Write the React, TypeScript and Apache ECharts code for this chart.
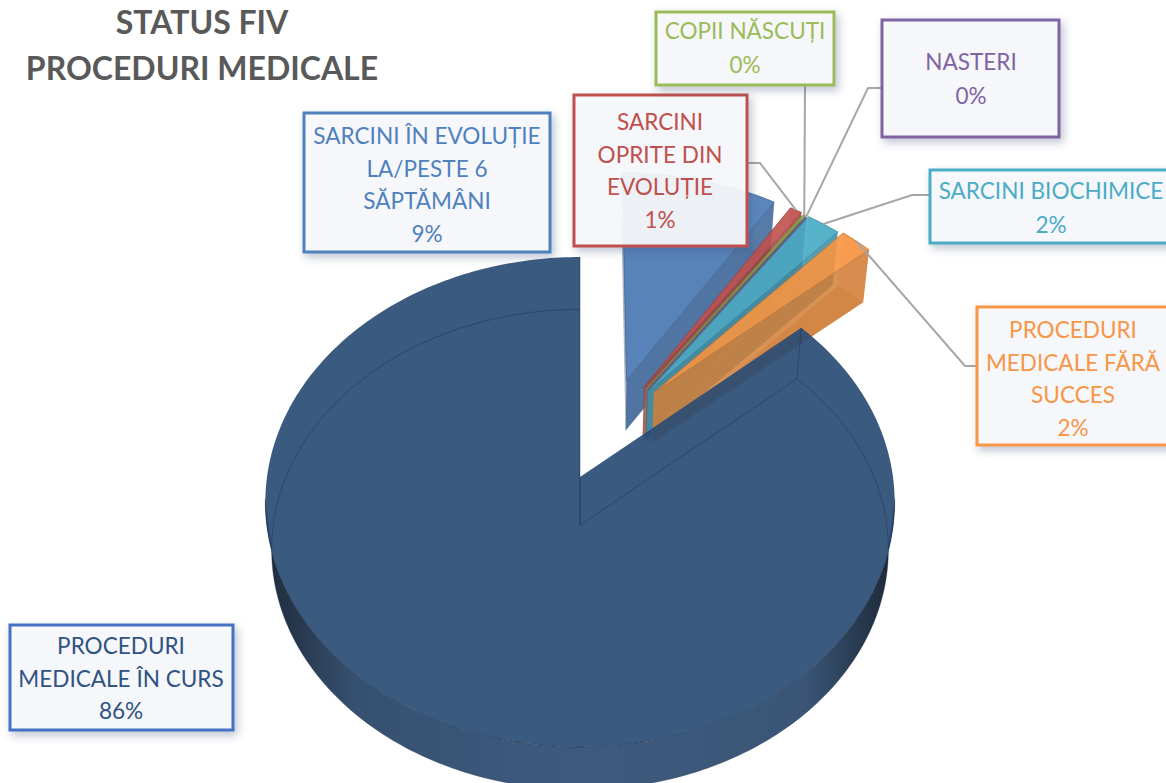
import React, { useEffect, useRef } from "react";
import * as echarts from "echarts";

// ---------- data ----------
const titleLines = ["STATUS FIV", "PROCEDURI MEDICALE"];
const categories = [
  "SARCINI ÎN EVOLUȚIE\nLA/PESTE 6\nSĂPTĂMÂNI",
  "SARCINI\nOPRITE DIN\nEVOLUȚIE",
  "COPII NĂSCUȚI",
  "NASTERI",
  "SARCINI BIOCHIMICE",
  "PROCEDURI\nMEDICALE FĂRĂ\nSUCCES",
  "PROCEDURI\nMEDICALE ÎN CURS",
];
const shares = [8.95, 0.7, 0.12, 0.03, 1.95, 1.85, 86.4];

// ---------- style ----------
const sliceRGB = [
  [78, 125, 184],
  [192, 80, 77],
  [140, 175, 80],
  [128, 100, 162],
  [72, 172, 197],
  [247, 148, 64],
  [42, 76, 116],
];
const boxColors = ["#4f81bd", "#c0504d", "#9bbb59", "#8064a2", "#4bacc6", "#f79646", "#4472c4"];
const textColors = ["#4f81bd", "#c0504d", "#9bbb59", "#8064a2", "#4bacc6", "#f79646", "#2f5382"];
// exploded offset and rim radius of each slice, in units of the pie's radius
const offsetU = [0.155, 0.212, 0.218, 0.221, 0.225, 0.244, 0];
const offsetV = [-0.415, -0.385, -0.375, -0.37, -0.365, -0.36, 0];
const rimRadius = [1.025, 1.025, 1.025, 1.025, 1.03, 1.03, 1];
// label boxes: left, top, right, bottom
const boxes = [
  [304, 113, 550, 252],
  [574, 95, 747, 246],
  [656, 12, 834, 85],
  [882, 20, 1059, 137],
  [930, 170, 1180, 243],
  [977, 307, 1180, 445],
  [10, 625, 233, 730],
];
const labelX = [427, 660, 745, 971, 1051, 1073, 121];
const labelTop = [135, 121, 30, 61, 190, 329, 645];
const leaderElbows: (number[][] | null)[] = [
  null,
  [[747, 163], [760, 163]],
  [[805, 85]],
  [[882, 88], [868, 88]],
  [[930, 195], [912, 195]],
  [[977, 366], [965, 366]],
  null,
];

// ---------- projection ----------
const cx = 580, cy = 477, B = 313, A = 242.4, persp = 0.102, depth = 48, lowScale = 0.98;
const total = shares.reduce((a, b) => a + b, 0);
const rad = (d: number) => (d * Math.PI) / 180;

function project(u: number, v: number, low: boolean) {
  const w = 1 - persp * v;
  const s = low ? lowScale : 1;
  return [cx + (B * s * u) / w, cy + (low ? depth : 0) + (A * s * v) / w];
}
function rim(i: number, deg: number, low: boolean) {
  const r = rimRadius[i];
  return project(offsetU[i] + r * Math.sin(rad(deg)), offsetV[i] - r * Math.cos(rad(deg)), low);
}
function arc(i: number, t0: number, t1: number, low: boolean) {
  const n = Math.max(2, Math.ceil(Math.abs(t1 - t0)));
  const pts: number[][] = [];
  for (let k = 0; k <= n; k++) pts.push(rim(i, t0 + ((t1 - t0) * k) / n, low));
  return pts;
}
function sliceRange(i: number) {
  let start = 0;
  for (let k = 0; k < i; k++) start += shares[k];
  return [(start / total) * 360, ((start + shares[i]) / total) * 360];
}
const rgba = (c: number[], a: number) => `rgba(${c[0]},${c[1]},${c[2]},${a})`;
const darker = (c: number[], f: number) => c.map((x) => Math.round(x * f));

function poly(points: number[][], fill: any, stroke?: string, lineWidth = 1) {
  return {
    type: "polygon",
    shape: { points },
    style: { fill, stroke: stroke || "none", lineWidth },
  };
}
function line(points: number[][], stroke: string, lineWidth: number) {
  return { type: "polyline", shape: { points }, style: { fill: "none", stroke, lineWidth } };
}

function renderSlice(_: any, api: any) {
  const i = api.value(0) as number;
  const [t0, t1] = sliceRange(i);
  const c = sliceRGB[i];
  const apexT = project(offsetU[i], offsetV[i], false);
  const apexB = project(offsetU[i], offsetV[i], true);
  const children: any[] = [];
  if (i === 6) {
    const wallFill = new echarts.graphic.LinearGradient(0, 0, 1, 0, [
      { offset: 0, color: "#1f2b3b" },
      { offset: 0.14, color: "#36506f" },
      { offset: 0.5, color: "#3e5b7f" },
      { offset: 0.86, color: "#3a5575" },
      { offset: 1, color: "#1c2836" },
    ]);
    const wt = arc(i, 95, 265, false);
    const wb = arc(i, 95, 265, true);
    children.push(poly([...wt, ...wb.reverse()], wallFill));
    children.push(poly([apexT, ...arc(i, t0, t1, false)], rgba(c, 0.92)));
    const guide = "rgba(22,42,72,0.4)";
    children.push(line([apexB, ...arc(i, t0, t1, true), apexB], guide, 1));
    children.push(line([rim(i, t0, false), rim(i, t0, true)], guide, 1));
    children.push(line([apexT, apexB], guide, 1));
    children.push(line([rim(i, t1, false), rim(i, t1, true)], guide, 1));
    children.push(line(arc(i, 95, 265, false), "rgba(22,42,72,0.45)", 1));
  } else {
    const edge = rgba(darker(c, 0.8), 0.8);
    const wallC = darker(c, 0.85);
    children.push(poly([apexB, ...arc(i, t0, t1, true)], rgba(darker(c, 0.55), 0.4)));
    children.push(poly([...arc(i, t0, t1, false), ...arc(i, t0, t1, true).reverse()], rgba(wallC, 0.25)));
    children.push(poly([apexT, apexB, rim(i, t1, true), rim(i, t1, false)], rgba(wallC, 0.85)));
    children.push(poly([apexT, ...arc(i, t0, t1, false)], rgba(c, 0.9), edge, 1));
  }
  return { type: "group", children };
}

function renderLabel(_: any, api: any) {
  const i = api.value(0) as number;
  const [l, t, r, b] = boxes[i];
  const col = boxColors[i];
  const children: any[] = [];
  const elbows = leaderElbows[i];
  if (elbows) {
    const [t0, t1] = sliceRange(i);
    children.push(line([...elbows, rim(i, (t0 + t1) / 2, false)], "#a6a6a6", 2));
  }
  children.push({
    type: "rect",
    shape: { x: l, y: t, width: r - l, height: b - t },
    style: {
      fill: "rgba(249,250,252,0.92)",
      stroke: col,
      lineWidth: 3,
      shadowColor: "rgba(60,80,120,0.35)",
      shadowBlur: 8,
      shadowOffsetX: 3,
      shadowOffsetY: 4,
    },
  });
  const pct = Math.round((shares[i] / total) * 100) + "%";
  const rows = [...categories[i].split("\n"), pct];
  const gap = rows.length === 2 ? 33.5 : 32.5;
  rows.forEach((txt, k) => {
    children.push({
      type: "text",
      x: labelX[i],
      y: labelTop[i] + k * gap,
      scaleX: 0.94,
      style: {
        text: txt,
        x: 0,
        y: 0,
        fill: textColors[i],
        font: "24px Lato",
        align: "center",
        verticalAlign: "middle",
      },
    });
  });
  return { type: "group", children };
}

export default function App() {
  const ref = useRef<HTMLDivElement>(null);
  useEffect(() => {
    const chart = echarts.init(ref.current!, undefined, { renderer: "svg" });
    const rows = shares.map((v, i) => [i, v]);
    chart.setOption({
      animation: false,
      backgroundColor: "#ffffff",
      title: {
        text: titleLines.join("\n"),
        left: 197,
        top: -7,
        textAlign: "center",
        textStyle: {
          fontFamily: "Lato",
          fontWeight: "bold",
          fontSize: 32,
          lineHeight: 46,
          color: "#595959",
        },
      },
      series: [
        {
          type: "custom",
          coordinateSystem: "none",
          renderItem: renderSlice,
          data: rows,
          silent: true,
          z: 2,
        },
        {
          type: "custom",
          coordinateSystem: "none",
          renderItem: renderLabel,
          data: rows,
          silent: true,
          z: 5,
        },
      ],
    });
    return () => chart.dispose();
  }, []);
  return (
    <div
      ref={ref}
      style={{ position: "absolute", left: 0, top: 0, width: 1166, height: 783, overflow: "hidden" }}
    />
  );
}
